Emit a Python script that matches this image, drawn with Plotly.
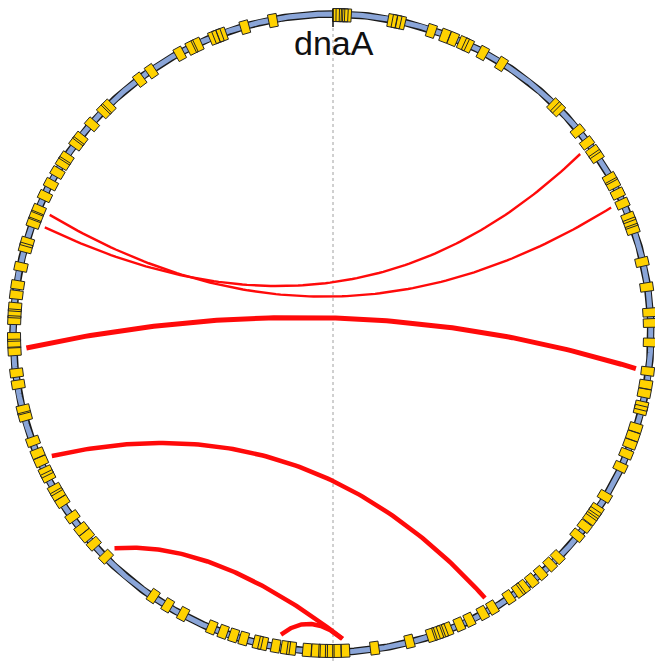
import numpy as np
import plotly.graph_objects as go

# Gene positions on the chromosome, degrees clockwise from dnaA (origin at top)
gene_deg = [
    0.9, 1.5, 2.1, 2.7, 10.9, 11.7, 12.5, 18.2, 20.8, 22.4, 24.3, 25.3, 28.3, 32.2,
    44.3, 45.3, 50.6, 53.3, 55.2, 56.3, 60.9, 62.1, 64.0, 66.0, 68.7, 69.8, 71.0,
    77.1, 81.7, 86.3, 88.2,
    91.7, 96.9, 99.3, 100.9, 103.2, 104.0, 107.3, 108.9, 110.4, 112.3, 114.9,
    120.9, 123.7, 124.6, 125.7, 127.4, 129.5, 134.8, 136.7, 139.0, 141.1, 143.0,
    144.1, 146.2, 149.7, 151.7, 154.4, 156.4, 158.7, 159.7, 160.6, 161.8, 165.9,
    172.3,
    177.6, 179.1, 180.4, 181.6, 182.9, 184.5, 187.3, 188.4, 190.2, 192.5, 193.5,
    196.1, 198.0, 200.0, 202.2, 207.9, 211.1, 214.2,
    225.3, 228.5, 230.4, 232.0, 234.7, 238.0, 239.5, 240.6, 243.2, 244.2, 246.2,
    247.8, 250.1, 254.8, 256.1, 260.7, 262.8, 266.7, 268.1, 269.3,
    272.3, 273.5, 274.7, 276.9, 278.7, 282.0, 285.5, 286.6, 290.2, 291.5, 292.8,
    295.5, 297.9, 300.3, 302.2, 303.4, 306.5, 307.7, 311.0, 314.2, 315.4, 322.8,
    325.4, 331.4, 333.8, 335.0, 338.2, 339.0, 339.8, 344.1, 349.3,
]

# Linked position pairs (degrees clockwise from dnaA)
link_start = [290.2, 292.7, 267.2, 246.3, 225.3, 189.6]
link_end = [54.2, 65.8, 96.7, 150.0, 178.0, 178.1]

origin_label = "dnaA"

# Drawing geometry / style
R_RING = 319.0
R_GENE_IN, R_GENE_OUT = 311.5, 324.5
GENE_SPAN = 1.55         # angular width of a gene box, degrees
R_LINK = 306.0
link_ctrl = [(20, -41), (-2, -49), (13, 55), (-27, -65), (-117, -207), (-22, -278)]
link_width = [2.4, 2.4, 5.0, 4.5, 4.5, 4.5]


def polar(r, deg):
    t = np.radians(deg)
    return r * np.sin(t), r * np.cos(t)


fig = go.Figure()

# dashed axis through the origin
fig.add_trace(go.Scatter(x=[1, 1], y=[305, -330], mode="lines",
                         line=dict(color="#a0a0a0", width=1, dash="3px,3px"),
                         hoverinfo="skip"))

# chromosome ring: dark outline under a blue band
theta = np.linspace(0, 360, 721)
rx, ry = polar(R_RING, theta)
fig.add_trace(go.Scatter(x=rx, y=ry, mode="lines", line=dict(color="#1a1a1a", width=7.5),
                         hoverinfo="skip"))
fig.add_trace(go.Scatter(x=rx, y=ry, mode="lines", line=dict(color="#8AA5D8", width=5),
                         hoverinfo="skip"))

# gene boxes
gx, gy = [], []
for a in gene_deg:
    a0, a1 = a - GENE_SPAN / 2, a + GENE_SPAN / 2
    corners = [(R_GENE_IN, a0), (R_GENE_OUT, a0), (R_GENE_OUT, a1), (R_GENE_IN, a1), (R_GENE_IN, a0)]
    for r, d in corners:
        x, y = polar(r, d)
        gx.append(x)
        gy.append(y)
    gx.append(None)
    gy.append(None)
fig.add_trace(go.Scatter(x=gx, y=gy, mode="lines", fill="toself", fillcolor="#FFD200",
                         line=dict(color="#262626", width=1), hoverinfo="skip"))

# links as quadratic Bezier curves
t = np.linspace(0, 1, 120)
for s, e, c, w in zip(link_start, link_end, link_ctrl, link_width):
    x0, y0 = polar(R_LINK, s)
    x2, y2 = polar(R_LINK, e)
    bx = (1 - t) ** 2 * x0 + 2 * t * (1 - t) * c[0] + t ** 2 * x2
    by = (1 - t) ** 2 * y0 + 2 * t * (1 - t) * c[1] + t ** 2 * y2
    fig.add_trace(go.Scatter(x=bx, y=by, mode="lines",
                             line=dict(color="#FF0A0A", width=w), hoverinfo="skip"))

# origin tick
fig.add_trace(go.Scatter(x=[1, 1], y=[324, 306], mode="lines",
                         line=dict(color="#111111", width=1.5), hoverinfo="skip"))

fig.add_annotation(x=2, y=290, text=origin_label, showarrow=False,
                   font=dict(family="Liberation Sans, Arial, sans-serif", size=34, color="#111111"))

fig.update_layout(
    width=655, height=661,
    margin=dict(l=0, r=0, t=0, b=0),
    paper_bgcolor="white", plot_bgcolor="white",
    showlegend=False, hovermode=False,
    xaxis=dict(range=[-332, 323], visible=False, fixedrange=True),
    yaxis=dict(range=[-328, 333], visible=False, scaleanchor="x", scaleratio=1, fixedrange=True),
)

fig.write_html("out.html")
